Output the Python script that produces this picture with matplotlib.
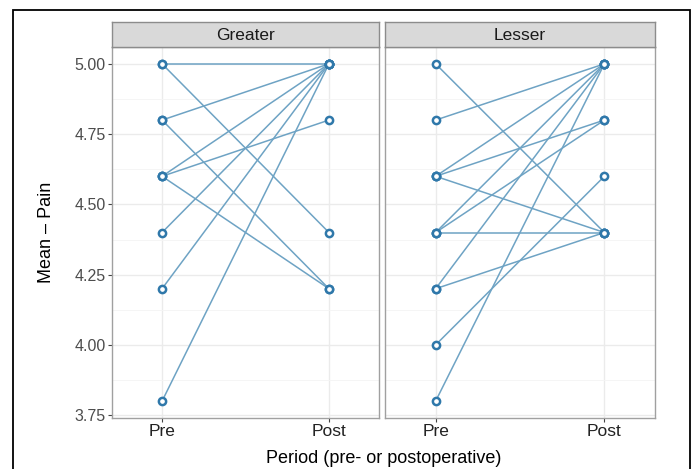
import matplotlib.pyplot as plt
from matplotlib.patches import Rectangle

plt.rcParams['font.family'] = ['Liberation Sans', 'DejaVu Sans']

periods = ["Pre", "Post"]
panels = ["Greater", "Lesser"]

# each pair is (pre value, post value) for one patient
greater_pre = [5.0, 5.0, 4.8, 4.8, 4.6, 4.6, 4.6, 4.4, 4.2, 3.8]
greater_post = [5.0, 4.4, 5.0, 4.2, 5.0, 4.8, 4.2, 5.0, 5.0, 5.0]
lesser_pre = [5.0, 4.8, 4.6, 4.6, 4.6, 4.4, 4.4, 4.4, 4.2, 4.2, 4.0, 3.8]
lesser_post = [4.4, 5.0, 5.0, 4.8, 4.4, 5.0, 4.8, 4.4, 5.0, 4.4, 4.6, 5.0]

y_ticks = [3.75, 4.00, 4.25, 4.50, 4.75, 5.00]

W, H = 693, 469
fig = plt.figure(figsize=(W / 100, H / 100), dpi=100)

def px(x0, y0, x1, y1):
    return [x0 / W, 1 - y1 / H, (x1 - x0) / W, (y1 - y0) / H]

# outer frame
fig.patches.append(Rectangle((13 / W, -0.1), (690 - 13) / W, 1 - 10 / H + 0.1,
                             transform=fig.transFigure, fill=False,
                             edgecolor='black', linewidth=1.3))

boxes = [(112, 379), (385, 655)]
data = [(greater_pre, greater_post), (lesser_pre, lesser_post)]
line_c = '#6ea3c4'
mark_c = '#2f78aa'

for i, (name, (x0, x1), (pre, post)) in enumerate(zip(panels, boxes, data)):
    ax = fig.add_axes(px(x0, 47, x1, 418))
    for a, b in zip(pre, post):
        ax.plot([1, 2], [a, b], color=line_c, linewidth=1.1, zorder=2)
    ax.plot([1] * len(pre), pre, 'o', mfc='white', mec=mark_c, mew=1.8,
            ms=5.2, linestyle='none', zorder=3)
    ax.plot([2] * len(post), post, 'o', mfc='white', mec=mark_c, mew=1.8,
            ms=5.2, linestyle='none', zorder=3)
    ax.set_xlim(0.7, 2.3)
    ax.set_ylim(3.74, 5.06)
    ax.set_xticks([1, 2])
    ax.set_xticklabels(periods, fontsize=12.5, color='#222222')
    ax.set_yticks(y_ticks)
    ax.set_yticks([3.875, 4.125, 4.375, 4.625, 4.875], minor=True)
    ax.grid(True, which='major', color='#ebebeb', linewidth=1.0, zorder=0)
    ax.grid(True, which='minor', axis='y', color='#f4f4f4', linewidth=0.6, zorder=0)
    ax.set_axisbelow(True)
    for s in ax.spines.values():
        s.set_color('#a0a0a0')
        s.set_linewidth(1.0)
    ax.tick_params(axis='both', which='major', length=3, color='#444444', pad=1.5)
    ax.tick_params(axis='both', which='minor', length=0)
    if i == 0:
        ax.set_yticklabels([f"{v:.2f}" for v in y_ticks], fontsize=11.5, color='#4d4d4d')
        ax.set_ylabel("Mean \u2013 Pain", fontsize=13, labelpad=14)
    else:
        ax.set_yticklabels([])
        ax.tick_params(axis='y', length=0)

    # facet strip
    sx = fig.add_axes(px(x0, 22, x1, 47))
    sx.set_xticks([])
    sx.set_yticks([])
    sx.set_facecolor('#d9d9d9')
    for s in sx.spines.values():
        s.set_color('#8c8c8c')
        s.set_linewidth(1.0)
    sx.text(0.5, 0.47, name, ha='center', va='center', fontsize=12.5,
            color='#1a1a1a', transform=sx.transAxes)

fig.text((112 + 655) / 2 / W, 1 - 458 / H, "Period (pre- or postoperative)",
         ha='center', va='center', fontsize=13)

fig.savefig("out.png", dpi=100)
